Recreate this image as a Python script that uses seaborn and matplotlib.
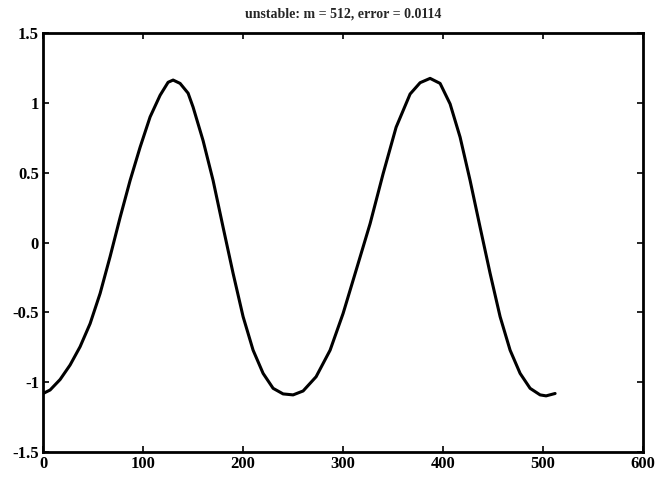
import matplotlib
matplotlib.use("Agg")
import matplotlib.pyplot as plt
import seaborn as sns
import pandas as pd

sns.set_theme(style="white")
plt.rcParams['font.family'] = ['Liberation Serif', 'DejaVu Serif']

x_vals = [0, 7, 17, 27, 37, 47, 57, 67, 77, 87, 97, 107, 117, 125, 130, 137, 145,
          150, 160, 170, 180, 190, 200, 210, 220, 230, 240, 250, 260, 273, 287,
          300, 313, 327, 340, 353, 367, 377, 387, 397, 407, 417, 427, 437, 447,
          457, 467, 477, 487, 497, 503, 512]
y_vals = [-1.08, -1.055, -0.98, -0.876, -0.745, -0.58, -0.364, -0.10, 0.18, 0.445, 0.683, 0.90, 1.055, 1.148, 1.164, 1.14, 1.07,
          0.97, 0.73, 0.445, 0.11, -0.22, -0.53, -0.77, -0.936, -1.043, -1.083, -1.09, -1.062, -0.96, -0.77,
          -0.507, -0.198, 0.136, 0.493, 0.826, 1.064, 1.145, 1.176, 1.14, 0.993, 0.755, 0.445, 0.11, -0.22,
          -0.53, -0.77, -0.936, -1.043, -1.09, -1.097, -1.08]

df = pd.DataFrame({"x": x_vals, "y": y_vals})

fig = plt.figure(figsize=(6.63, 4.8), dpi=100)
ax = fig.add_axes([0.065, 0.058, 0.905, 0.873])
sns.lineplot(data=df, x="x", y="y", ax=ax, color="black", linewidth=2.2, sort=False,
             solid_joinstyle="round", solid_capstyle="round")

ax.set_xlim(0, 600)
ax.set_ylim(-1.5, 1.5)
ax.set_xticks([0, 100, 200, 300, 400, 500, 600])
ax.set_yticks([-1.5, -1, -0.5, 0, 0.5, 1, 1.5])
ax.set_yticklabels(["-1.5", "-1", "-0.5", "0", "0.5", "1", "1.5"])
ax.set_xlabel("")
ax.set_ylabel("")
ax.set_title("unstable: m = 512, error = 0.0114", fontsize=10, fontweight="bold", pad=11)
for s in ax.spines.values():
    s.set_color("black")
    s.set_linewidth(2)
ax.tick_params(direction="in", length=4, width=1.2, top=True, right=True, bottom=True, left=True,
               labelsize=12, colors="black", pad=3)
for lab in ax.get_xticklabels() + ax.get_yticklabels():
    lab.set_fontweight("bold")

fig.savefig("out.png", dpi=100)
